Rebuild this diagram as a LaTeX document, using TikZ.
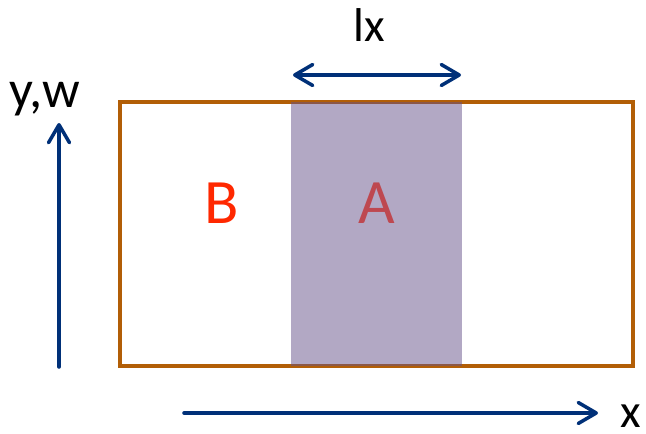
\documentclass[tikz,border=0pt]{standalone}
\usepackage{fontspec}
\setmainfont{Carlito}
\usetikzlibrary{arrows.meta}
\definecolor{boxBrown}{RGB}{178,94,6}
\definecolor{axisBlue}{RGB}{0,48,120}
\definecolor{stripPurple}{RGB}{101,81,137}
\definecolor{labelRed}{RGB}{255,40,0}
\definecolor{labelRose}{RGB}{190,72,80}

\begin{document}
\begin{tikzpicture}[x=0.02cm,y=-0.02cm,
  arr/.style={-{Straight Barb[length=0.36cm,width=0.42cm,line cap=round,line join=round]},
              line width=2pt,draw=axisBlue,line cap=round},
  darr/.style={arr,{Straight Barb[length=0.36cm,width=0.42cm,line cap=round,line join=round]}-{Straight Barb[length=0.36cm,width=0.42cm,line cap=round,line join=round]}},
  lbl/.style={anchor=base,inner sep=0pt,font=\fontsize{27}{30}\selectfont}
]
  \useasboundingbox (0,0) rectangle (646,433);

  % box and strip
  \coordinate (boxNW) at (120,102);
  \coordinate (boxSE) at (633,366);
  \coordinate (stripNW) at (291,102);
  \coordinate (stripSE) at (462,366);
  \draw[boxBrown,line width=2.3pt] (boxNW) rectangle (boxSE);
  \fill[stripPurple,fill opacity=0.5] (stripNW) rectangle (stripSE);

  % region labels
  \node[lbl,labelRed,font=\fontsize{36}{40}\selectfont](regB) at (222,223) {B};
  \node[lbl,labelRose,font=\fontsize{36}{40}\selectfont](regA) at (377,223) {A};

  % width of strip
  \coordinate (lxL) at (293,75);
  \coordinate (lxR) at (461,75);
  \draw[darr] (lxL) -- (lxR);
  \node[lbl](lx) at (369,41) {lx};

  % axes
  \coordinate (yFrom) at (59,367);
  \coordinate (yTo) at (59,123);
  \draw[arr] (yFrom) -- (yTo);
  \node[lbl,font=\fontsize{30}{33}\selectfont](ylab) at (45,107) {y,w};

  \coordinate (xFrom) at (184,413);
  \coordinate (xTo) at (598,413);
  \draw[arr] (xFrom) -- (xTo);
  \node[lbl](xlab) at (631,427) {x};
\end{tikzpicture}
\end{document}
